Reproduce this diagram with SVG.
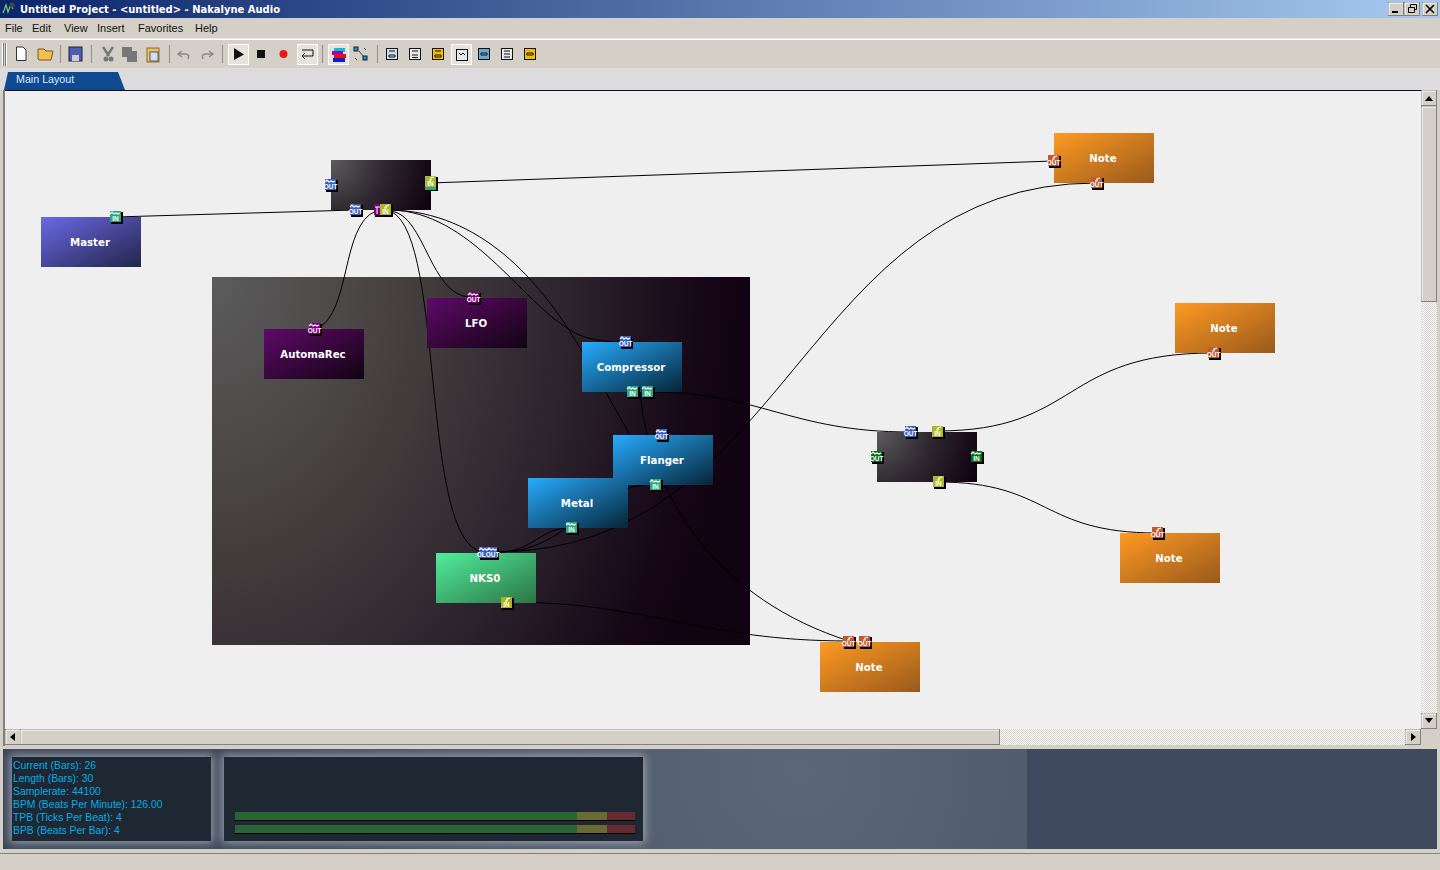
<svg xmlns="http://www.w3.org/2000/svg" width="1440" height="870" viewBox="0 0 1440 870">
<style>
.ui{font-family:"Liberation Sans",Arial,sans-serif;font-size:11px;fill:#111}
.tt{font-family:"DejaVu Sans",Verdana,sans-serif;font-size:11px;font-weight:bold;fill:#fff}
.nl{font-family:"DejaVu Sans",Verdana,sans-serif;font-size:10.2px;font-weight:bold;fill:#fff;text-anchor:middle}
.info{font-family:"Liberation Sans",Arial,sans-serif;font-size:10.4px;fill:#00aee8}
.pl{font-family:"Liberation Sans",Arial,sans-serif;font-size:6.5px;font-weight:bold;fill:#fff;text-anchor:middle;transform:translateY(-.6px)}
.wire{fill:none;stroke:#000;stroke-width:1}
.sh{fill:#000}
.btn{fill:#d4d0c8;stroke:#808080;stroke-width:1}
.hl{fill:none;stroke:#fff;stroke-width:1}
.tb{fill:#e6e3dc;stroke:#fff;stroke-width:1}
.ico{fill:none;stroke:#111;stroke-width:1}
.wv{fill:none;stroke:#fff;stroke-width:1.2}
.blue{fill:#3a5fc0}.teal{fill:#2aa880}.olive{fill:#aab82c}.purple{fill:#800080}.green{fill:#0a7020}.red{fill:#c05a30}
</style>
<defs>
<linearGradient id="title" x1="0" x2="1" y1="0" y2="0"><stop offset="0" stop-color="#0a246a"/><stop offset="1" stop-color="#a6caf0"/></linearGradient>
<linearGradient id="gMaster" x1="0" y1="0" x2="1" y2="1"><stop offset="0" stop-color="#6c68e6"/><stop offset="1" stop-color="#22254a"/></linearGradient>
<linearGradient id="gPurple" x1="0" y1="0" x2="1" y2="1"><stop offset="0" stop-color="#5e0a68"/><stop offset="1" stop-color="#120312"/></linearGradient>
<linearGradient id="gBlue" x1="0" y1="0" x2="1" y2="1"><stop offset="0" stop-color="#28acff"/><stop offset="1" stop-color="#052436"/></linearGradient>
<linearGradient id="gGreen" x1="0" y1="0" x2="1" y2="1"><stop offset="0" stop-color="#50ee9c"/><stop offset="1" stop-color="#2d7446"/></linearGradient>
<linearGradient id="gNote" x1="0" y1="0" x2="1" y2="1"><stop offset="0" stop-color="#ff9a22"/><stop offset="1" stop-color="#99591c"/></linearGradient>
<radialGradient id="gPanel" gradientUnits="userSpaceOnUse" cx="212" cy="277" r="540" gradientTransform="translate(212 277) scale(1 1.35) translate(-212 -277)"><stop offset="0" stop-color="#5c5c5c"/><stop offset=".35" stop-color="#45403f"/><stop offset=".65" stop-color="#2d252e"/><stop offset=".92" stop-color="#150516"/><stop offset="1" stop-color="#120312"/></radialGradient>
<radialGradient id="gMix1" gradientUnits="userSpaceOnUse" cx="331" cy="160" r="105"><stop offset="0" stop-color="#5c5c5c"/><stop offset=".5" stop-color="#2f2830"/><stop offset="1" stop-color="#120312"/></radialGradient>
<radialGradient id="gMix2" gradientUnits="userSpaceOnUse" cx="877" cy="432" r="105"><stop offset="0" stop-color="#5c5c5c"/><stop offset=".5" stop-color="#2f2830"/><stop offset="1" stop-color="#120312"/></radialGradient>
<radialGradient id="gBottom" gradientUnits="userSpaceOnUse" cx="800" cy="770" r="620"><stop offset="0" stop-color="#5c6779"/><stop offset="1" stop-color="#3e4858"/></radialGradient>
<filter id="glow" x="-15%" y="-25%" width="130%" height="150%"><feGaussianBlur stdDeviation="4"/></filter>
<pattern id="dither" width="2" height="2" patternUnits="userSpaceOnUse"><rect width="2" height="2" fill="#fff"/><rect width="1" height="1" fill="#d4d0c8"/><rect x="1" y="1" width="1" height="1" fill="#d4d0c8"/></pattern>
<path id="w" class="wv" d="M1,4 L3,2 L5,4 L7,3 L9,4 L11,3"/>
<path id="n" class="wv" d="M4,5 L6,5 L6,3 L9,2"/>
</defs>

<g id="chrome">
<rect width="1440" height="870" fill="#d4d0c8"/>
<rect width="1440" height="18" fill="url(#title)"/>
<path d="M3,13 L6,5 L8,12 L11,4 L13,9" fill="none" stroke="#6fcf6f" stroke-width="1.2"/>
<circle cx="12" cy="5" r="2.5" fill="#444"/>
<text class="tt" x="20" y="13" textLength="260" lengthAdjust="spacingAndGlyphs">Untitled Project - &lt;untitled&gt; - Nakalyne Audio</text>
<g id="winbtns">
<rect class="btn" x="1388.500" y="2.500" width="15" height="13"/><path class="hl" d="M1389,15 V3 H1403"/><path d="M1392,12 H1398" stroke="#000" stroke-width="2"/>
<rect class="btn" x="1404.500" y="2.500" width="15" height="13"/><path class="hl" d="M1405,15 V3 H1419"/><path d="M1408.500,7.500 h6 v5 h-6 z M1410.500,7 V4.500 h6 v5 h-2" fill="none" stroke="#000"/>
<rect class="btn" x="1422.500" y="2.500" width="15" height="13"/><path class="hl" d="M1423,15 V3 H1437"/><path d="M1426,5 L1434,13 M1434,5 L1426,13" stroke="#000" stroke-width="1.6"/>
</g>
<g id="menu">
<text class="ui" x="5" y="32">File</text><text class="ui" x="32" y="32">Edit</text><text class="ui" x="64" y="32">View</text><text class="ui" x="97" y="32">Insert</text><text class="ui" x="138" y="32">Favorites</text><text class="ui" x="195" y="32">Help</text>
</g>
<rect x="0" y="38.500" width="1440" height="1.500" fill="#fff"/>
<g id="toolbar">
<path d="M2.500,43 V66 M6.500,43 V66" stroke="#fff"/><path d="M3.500,43 V66 M5.500,43 V66" stroke="#808080"/>
<path d="M60.500,45 V63 M91.500,45 V63 M169.500,45 V63 M222.500,45 V63 M322.500,45 V63 M377.500,45 V63" stroke="#9a968e" stroke-width="1.200"/>
<path d="M16.500,47 H23 L26,50 V60.500 H16.500 Z" fill="#fff" stroke="#333"/>
<path d="M38,59 V49 H44 L46,51 H53 L51,60 H39 Z" fill="#f0c050" stroke="#7a5a20"/>
<rect x="69" y="47" width="13" height="14" fill="#4d5fb5" stroke="#223"/><rect x="72" y="55" width="7" height="6" fill="#ccc"/>
<path d="M103,47 L109,56 M113,47 L107,56" stroke="#777" stroke-width="2.500"/><circle cx="106" cy="59" r="2.500" fill="#777"/><circle cx="111" cy="59" r="2.500" fill="#777"/>
<rect x="122" y="47" width="10" height="10" fill="#777"/><rect x="127" y="51" width="10" height="11" fill="#777"/>
<rect x="147" y="48" width="12" height="14" fill="#eec060" stroke="#8a6a20"/><rect x="150" y="52" width="8" height="9" fill="#cfe0f5" stroke="#557"/>
<path d="M182,51 L178,54 L182,57 M179,54 H186 Q190,55 188,59" fill="none" stroke="#8a8a8a" stroke-width="1.400"/>
<path d="M209,51 L213,54 L209,57 M212,54 H205 Q201,55 203,59" fill="none" stroke="#8a8a8a" stroke-width="1.400"/>
<rect class="tb" x="228.500" y="44.500" width="20" height="20"/>
<path d="M234,48 L244,54.500 L234,60 Z" fill="#111"/>
<rect x="257" y="50" width="8" height="8" fill="#111"/>
<circle cx="283.500" cy="54" r="4" fill="#e81818"/>
<rect class="tb" x="297.500" y="44.500" width="20" height="20"/>
<path d="M313,50 V56 H302 M305,53 L302,56 L305,59 M302,50 H313" class="ico"/>
<rect class="tb" x="328.500" y="44.500" width="20" height="20"/>
<rect x="334" y="48" width="11" height="4" fill="#00c8c8"/><rect x="332" y="51" width="11" height="4" fill="#a000c0"/><rect x="334" y="54" width="12" height="4" fill="#e01020"/><rect x="333" y="58" width="12" height="4" fill="#1020c0"/>
<rect x="354" y="47" width="4" height="4" fill="#2a8ad0" stroke="#123"/><rect x="363" y="56" width="4" height="4" fill="#2a8ad0" stroke="#123"/><path d="M359,51 L363,56 M364,48 L366,50 M355,58 L357,60" stroke="#444"/>
<g id="viewicons" fill="none" stroke="#111">
<rect x="386.500" y="48.500" width="11" height="11" fill="#c8def0"/><path d="M389,51 h6 M389,55 h6 v2 h-6 z"/>
<rect x="409.500" y="48.500" width="11" height="11" fill="#e8e8e8"/><path d="M412,51 h6 M412,55 h6 M412,57.500 h6"/>
<rect x="432.500" y="48.500" width="11" height="11" fill="#f0c000"/><path d="M435,51 h6 M435,55 h6 v2 h-6 z"/>
<rect x="451.500" y="44.500" width="20" height="20" fill="#e6e3dc" stroke="#fff"/><rect x="456.500" y="49.500" width="11" height="11" fill="#e8e8e8"/><path d="M459,53 L461,55 L463,53 L465,55"/>
<rect x="478.500" y="48.500" width="11" height="11" fill="#6aa8d8"/><path d="M481,53 h6 v2 h-6 z"/>
<rect x="501.500" y="48.500" width="11" height="11" fill="#e8e8e8"/><path d="M504,51 h6 M504,54 h6 M504,57 h6"/>
<rect x="524.500" y="48.500" width="11" height="11" fill="#f0c000"/><path d="M527,53 h6 v2 h-6 z"/>
</g>
</g>
<rect x="0" y="68" width="1440" height="22" fill="#dcdcde"/>
<path d="M4,90 L8,72 H118 L125,90 Z" fill="#0f4a90"/>
<text class="ui" x="16" y="83" style="fill:#dfe8f5;font-size:10.700px">Main Layout</text>
<rect x="3" y="90" width="1418" height="2" fill="#111"/>
<rect x="3" y="90" width="2" height="656" fill="#808080"/>
<rect x="5" y="91" width="1416" height="638" fill="#efefef"/>
<g id="scrollbars">
<rect x="1421" y="91" width="16" height="638" fill="url(#dither)"/>
<rect class="btn" x="1421.500" y="90.500" width="15" height="15"/><path class="hl" d="M1422,105 V91 H1436"/><path d="M1425,101 H1433 L1429,96 Z" fill="#000"/>
<rect class="btn" x="1421.500" y="106.500" width="15" height="195"/><path class="hl" d="M1422,301 V107 H1436"/>
<rect class="btn" x="1421.500" y="713.500" width="15" height="15"/><path class="hl" d="M1422,728 V714 H1436"/><path d="M1425,718 H1433 L1429,723 Z" fill="#000"/>
<rect x="5" y="729" width="1416" height="16" fill="url(#dither)"/>
<rect class="btn" x="5.500" y="729.500" width="15" height="15"/><path class="hl" d="M6,744 V730 H20"/><path d="M15,733 V741 L10,737 Z" fill="#000"/>
<rect class="btn" x="20.500" y="729.500" width="979" height="15"/><path class="hl" d="M21,744 V730 H999"/>
<rect class="btn" x="1405.500" y="729.500" width="15" height="15"/><path class="hl" d="M1406,744 V730 H1420"/><path d="M1411,733 V741 L1416,737 Z" fill="#000"/>
<rect x="1421" y="729" width="16" height="16" fill="#d4d0c8"/>
</g>
</g>

<g id="node-panel"><rect x="212" y="277" width="538" height="368" fill="url(#gPanel)"/></g>

<g id="connectors">
<path class="wire" d="M115,217 L355,210"/>
<path class="wire" d="M430,183 L1053,161"/>
<path class="wire" d="M376,211 C340,225 352,315 315,330"/>
<path class="wire" d="M391,211 C425,215 430,296 470,297"/>
<path class="wire" d="M391,210 C470,212 520,300 570,330 C585,340 605,342 625,342"/>
<path class="wire" d="M391,210 C480,212 540,280 580,348 C610,400 640,450 655,484"/>
<path class="wire" d="M392,212 C445,240 420,540 482,552"/>
<path class="wire" d="M1096,183 C800,183 790,552 495,552"/>
<path class="wire" d="M650,392 C760,392 790,432 910,432"/>
<path class="wire" d="M640,392 C650,500 720,600 849,641"/>
<path class="wire" d="M506,602 C650,602 700,641 849,641"/>
<path class="wire" d="M566,528 C540,530 530,552 500,552"/>
<path class="wire" d="M655,484 C590,484 570,552 500,552"/>
<path class="wire" d="M937,431 C1080,431 1060,353 1213,353"/>
<path class="wire" d="M938,482 C1050,482 1040,533 1157,533"/>
</g>

<g id="node-mixer1"><rect x="331" y="160" width="100" height="50" fill="url(#gMix1)"/>
<g id="p1"><rect class="sh" x="326" y="180" width="12" height="12"/><rect class="blue" x="325" y="179" width="11" height="11"/><use href="#w" x="324" y="178"/><text class="pl" x="330.500" y="190">OUT</text></g>
<g id="p2"><rect class="sh" x="426" y="177" width="12" height="14"/><rect class="olive" x="425" y="176" width="11" height="11"/><rect class="teal" x="425" y="187" width="11" height="3"/><use href="#n" x="425" y="175"/><text class="pl" x="430.500" y="187">IN</text></g>
<g id="p3"><rect class="sh" x="351" y="205" width="12" height="12"/><rect class="blue" x="350" y="204" width="11" height="11"/><use href="#w" x="349" y="203"/><text class="pl" x="355.500" y="215">OUT</text></g>
<g id="p4"><rect class="sh" x="375" y="205" width="18" height="12"/><rect class="purple" x="374" y="204" width="7" height="11"/><path d="M375,207 H380 M377,207 V214" stroke="#fff"/><rect class="olive" x="380" y="204" width="11" height="11"/><use href="#n" x="380" y="203"/><text class="pl" x="385.500" y="215">IN</text></g>
</g>
<g id="node-master"><rect x="41" y="217" width="100" height="50" fill="url(#gMaster)"/><text class="nl" x="90" y="246">Master</text>
<rect class="sh" x="111" y="212" width="12" height="12"/><rect class="teal" x="110" y="211" width="11" height="11"/><use href="#w" x="109" y="210"/><text class="pl" x="115.500" y="222">IN</text></g>
<g id="node-automarec"><rect x="264" y="329" width="100" height="50" fill="url(#gPurple)"/><text class="nl" x="313" y="358">AutomaRec</text>
<rect class="sh" x="310" y="324" width="12" height="12"/><rect class="purple" x="309" y="323" width="11" height="11"/><use href="#w" x="308" y="322"/><text class="pl" x="314.500" y="334">OUT</text></g>
<g id="node-lfo"><rect x="427" y="298" width="100" height="50" fill="url(#gPurple)"/><text class="nl" x="476" y="327">LFO</text>
<rect class="sh" x="469" y="293" width="12" height="12"/><rect class="purple" x="468" y="292" width="11" height="11"/><use href="#w" x="467" y="291"/><text class="pl" x="473.500" y="303">OUT</text></g>
<g id="node-compressor"><rect x="582" y="342" width="100" height="50" fill="url(#gBlue)"/><text class="nl" x="631" y="371">Compressor</text>
<rect class="sh" x="621" y="337" width="12" height="12"/><rect class="blue" x="620" y="336" width="11" height="11"/><use href="#w" x="619" y="335"/><text class="pl" x="625.500" y="347">OUT</text>
<rect class="sh" x="628" y="387" width="12" height="12"/><rect class="teal" x="627" y="386" width="11" height="11"/><use href="#w" x="626" y="385"/><text class="pl" x="632.500" y="397">IN</text>
<rect class="sh" x="643" y="387" width="12" height="12"/><rect class="teal" x="642" y="386" width="11" height="11"/><use href="#w" x="641" y="385"/><text class="pl" x="647.500" y="397">IN</text></g>
<g id="node-flanger"><rect x="613" y="435" width="100" height="50" fill="url(#gBlue)"/><text class="nl" x="662" y="464">Flanger</text>
<rect class="sh" x="657" y="430" width="12" height="12"/><rect class="blue" x="656" y="429" width="11" height="11"/><use href="#w" x="655" y="428"/><text class="pl" x="661.500" y="440">OUT</text>
<rect class="sh" x="651" y="480" width="12" height="12"/><rect class="teal" x="650" y="479" width="11" height="11"/><use href="#w" x="649" y="478"/><text class="pl" x="655.500" y="490">IN</text></g>
<g id="node-metal"><rect x="528" y="478" width="100" height="50" fill="url(#gBlue)"/><text class="nl" x="577" y="507">Metal</text>
<rect class="sh" x="567" y="523" width="12" height="12"/><rect class="teal" x="566" y="522" width="11" height="11"/><use href="#w" x="565" y="521"/><text class="pl" x="571.500" y="533">IN</text></g>
<g id="node-nks0"><rect x="436" y="553" width="100" height="50" fill="url(#gGreen)"/><text class="nl" x="485" y="582">NKS0</text>
<rect class="sh" x="480" y="548" width="19" height="12"/><rect class="blue" x="479" y="547" width="18" height="11"/><use href="#w" x="478" y="546"/><use href="#w" x="486" y="546"/><text class="pl" x="488" y="558">OLOUT</text>
<rect class="sh" x="502" y="598" width="12" height="12"/><rect fill="#b0b020" x="501" y="597" width="11" height="11"/><use href="#n" x="501" y="596"/><text class="pl" x="506.500" y="608">IN</text></g>
<g id="node-mixer2"><rect x="877" y="432" width="100" height="50" fill="url(#gMix2)"/>
<rect class="sh" x="906" y="427" width="12" height="12"/><rect class="blue" x="905" y="426" width="11" height="11"/><use href="#w" x="904" y="425"/><text class="pl" x="910.500" y="437">OUT</text>
<rect class="sh" x="933" y="427" width="12" height="12"/><rect class="olive" x="932" y="426" width="11" height="11"/><use href="#n" x="932" y="425"/><text class="pl" x="937.500" y="437">IN</text>
<rect class="sh" x="872" y="452" width="12" height="12"/><rect class="green" x="871" y="451" width="11" height="11"/><use href="#w" x="870" y="450"/><text class="pl" x="876.500" y="462">OUT</text>
<rect class="sh" x="972" y="452" width="12" height="12"/><rect class="green" x="971" y="451" width="11" height="11"/><use href="#w" x="970" y="450"/><text class="pl" x="976.500" y="462">IN</text>
<rect class="sh" x="934" y="477" width="12" height="12"/><rect class="olive" x="933" y="476" width="11" height="11"/><use href="#n" x="933" y="475"/><text class="pl" x="938.500" y="487">IN</text></g>
<g id="node-note1"><rect x="1054" y="133" width="100" height="50" fill="url(#gNote)"/><text class="nl" x="1103" y="162">Note</text>
<rect class="sh" x="1049" y="156" width="12" height="12"/><rect class="red" x="1048" y="155" width="11" height="11"/><use href="#n" x="1048" y="154"/><text class="pl" x="1053.500" y="166">OUT</text>
<rect class="sh" x="1092" y="178" width="12" height="12"/><rect class="red" x="1091" y="177" width="11" height="11"/><use href="#n" x="1091" y="176"/><text class="pl" x="1096.500" y="188">OUT</text></g>
<g id="node-note2"><rect x="1175" y="303" width="100" height="50" fill="url(#gNote)"/><text class="nl" x="1224" y="332">Note</text>
<rect class="sh" x="1209" y="348" width="12" height="12"/><rect class="red" x="1208" y="347" width="11" height="11"/><use href="#n" x="1208" y="346"/><text class="pl" x="1213.500" y="358">OUT</text></g>
<g id="node-note3"><rect x="1120" y="533" width="100" height="50" fill="url(#gNote)"/><text class="nl" x="1169" y="562">Note</text>
<rect class="sh" x="1153" y="528" width="12" height="12"/><rect class="red" x="1152" y="527" width="11" height="11"/><use href="#n" x="1152" y="526"/><text class="pl" x="1157.500" y="538">OUT</text></g>
<g id="node-note4"><rect x="820" y="642" width="100" height="50" fill="url(#gNote)"/><text class="nl" x="869" y="671">Note</text>
<rect class="sh" x="844" y="637" width="12" height="12"/><rect class="red" x="843" y="636" width="11" height="11"/><use href="#n" x="843" y="635"/><text class="pl" x="848.500" y="647">OUT</text>
<rect class="sh" x="860" y="637" width="12" height="12"/><rect class="red" x="859" y="636" width="11" height="11"/><use href="#n" x="859" y="635"/><text class="pl" x="864.500" y="647">OUT</text></g>

<g id="transport">
<rect x="3" y="749" width="1434" height="100" fill="url(#gBottom)"/>
<rect x="1027" y="749" width="410" height="100" fill="#3f4a5e"/>
<rect x="10" y="755" width="203" height="88" fill="#aab3c2" filter="url(#glow)" opacity=".8"/>
<rect x="222" y="755" width="423" height="88" fill="#aab3c2" filter="url(#glow)" opacity=".8"/>
<rect x="12" y="757" width="199" height="84" fill="#1f2733"/>
<rect x="224" y="757" width="419" height="84" fill="#1f2733"/>
<g id="readout">
<text class="info" x="13" y="769">Current (Bars): 26</text>
<text class="info" x="13" y="782">Length (Bars): 30</text>
<text class="info" x="13" y="795">Samplerate: 44100</text>
<text class="info" x="13" y="808">BPM (Beats Per Minute): 126.00</text>
<text class="info" x="13" y="821">TPB (Ticks Per Beat): 4</text>
<text class="info" x="13" y="834">BPB (Beats Per Bar): 4</text>
</g>
<g id="meters">
<rect x="235" y="820" width="400" height="1" fill="#000"/><rect x="235" y="833" width="400" height="1" fill="#000"/>
<rect x="235" y="812" width="342" height="8" fill="#2a6535"/><rect x="577" y="812" width="30" height="8" fill="#6a6a35"/><rect x="607" y="812" width="28" height="8" fill="#662a30"/>
<rect x="235" y="825" width="342" height="8" fill="#2a6535"/><rect x="577" y="825" width="30" height="8" fill="#6a6a35"/><rect x="607" y="825" width="28" height="8" fill="#662a30"/>
</g>
</g>
<rect x="0" y="853" width="1440" height="1" fill="#808080"/>
</svg>
